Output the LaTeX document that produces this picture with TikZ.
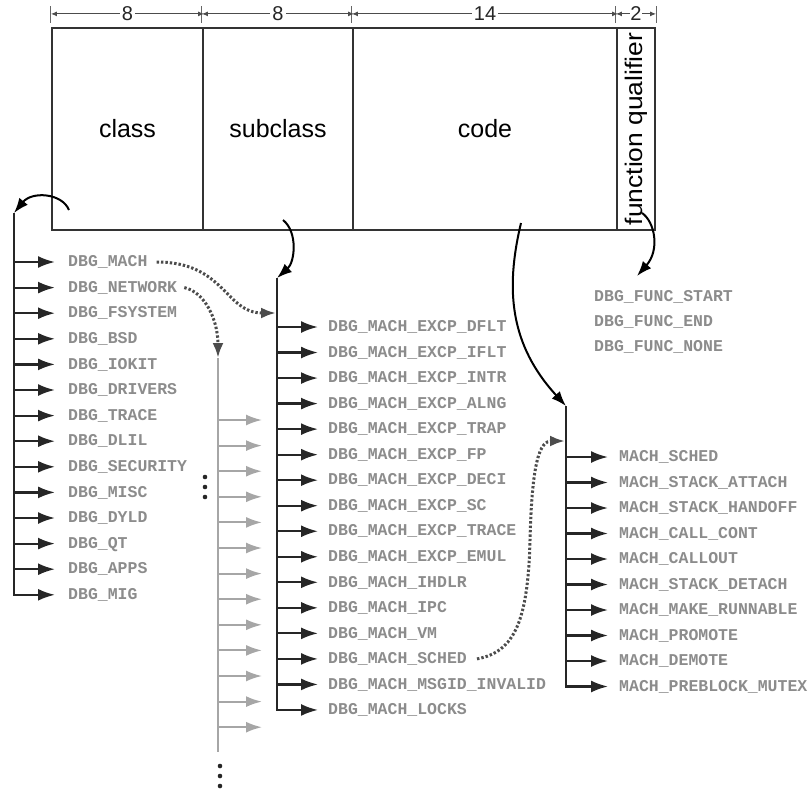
\documentclass[tikz,border=0pt]{standalone}
\usepackage{fontspec}
\setmainfont{Liberation Sans}
\newfontfamily\itemfont{Liberation Mono}
\usetikzlibrary{arrows.meta}
\tikzset{
  harrtip/.tip={Latex[length=17pt,width=12pt]},
  garrtip/.tip={Latex[length=16pt,width=11pt]},
  curvtip/.tip={Latex[length=15pt,width=11pt]},
  dimtip/.tip={Latex[length=6pt,width=5pt]}
}
\begin{document}
\begin{tikzpicture}[x=1pt,y=-1pt,
  field/.style={draw=black!80,line width=2.2pt,minimum height=202pt,inner sep=0pt,font=\fontsize{25}{28}\selectfont},
  item/.style={anchor=west,inner sep=0pt,text height=9.4pt,text depth=0pt,font=\itemfont\bfseries\fontsize{16.5}{18}\selectfont,text=black!45},
  harr/.style={line width=2.2pt,draw=black!85,line join=miter,arrows={-harrtip}},
  gcol/.style={line width=2.2pt,draw=black!35},
  garr/.style={line width=2pt,draw=black!35,arrows={-garrtip}},
  dots/.style={line width=3pt,draw=black!70,dash pattern=on 2.4pt off 2pt,arrows={-curvtip}},
  curv/.style={line width=2pt,draw=black,arrows={-curvtip}},
  dim/.style={line width=1pt,draw=black!70,arrows={dimtip-dimtip}},
  dimtick/.style={line width=1pt,draw=black!60},
  dimlab/.style={fill=white,inner sep=2pt,font=\fontsize{20}{22}\selectfont,text=black!85},
  dotmark/.style={fill=black!85}
]
\useasboundingbox (0,0) rectangle (810,792);

% ---- the word layout box
\node[field,minimum width=151pt] (cls) at (127.5,129) {class};
\node[field,minimum width=150pt] (sub) at (278,129) {subclass};
\node[field,minimum width=264pt] (cod) at (485,129) {code};
\node[field,minimum width=38pt] (fq) at (636,129) {};
\node[rotate=90,inner sep=0pt,font=\fontsize{24}{26}\selectfont,xscale=1.1] (fqtext) at (fq.center) {function qualifier};

% ---- dimension line
\foreach \p in {cls.north west,sub.north west,cod.north west,fq.north west,fq.north east}
  \draw[dimtick] ([yshift=4pt]\p) -- ([yshift=21pt]\p);
\draw[dim] ([yshift=13pt]cls.north west) -- node[dimlab] (d1) {8} ([yshift=13pt]cls.north east);
\draw[dim] ([yshift=13pt]sub.north west) -- node[dimlab] (d2) {8} ([yshift=13pt]sub.north east);
\draw[dim] ([yshift=13pt]cod.north west) -- node[dimlab] (d3) {14} ([yshift=13pt]cod.north east);
\draw[dim] ([yshift=13pt]fq.north west) -- node[dimlab,inner xsep=0.5pt] (d4) {2} ([yshift=13pt]fq.north east);

% ---- class list
\coordinate (lc) at (14,213);
\foreach \t [count=\i from 0] in {DBG\_MACH,DBG\_NETWORK,DBG\_FSYSTEM,DBG\_BSD,DBG\_IOKIT,DBG\_DRIVERS,DBG\_TRACE,DBG\_DLIL,DBG\_SECURITY,DBG\_MISC,DBG\_DYLD,DBG\_QT,DBG\_APPS,DBG\_MIG}
  \node[item] (L\i) at (68,{262+25.6*\i}) {\t};
\foreach \i in {0,...,12}
  \draw[harr,shorten >=13pt] (lc |- L\i.west) -- (L\i.west);
\draw[harr,shorten >=13pt] (lc) |- (L13.west);
\draw[curv] (69,210) .. controls (62,193) and (32,191) .. (lc);

% ---- subclass list
\coordinate (mc) at (277,278);
\foreach \t [count=\i from 0] in {DBG\_MACH\_EXCP\_DFLT,DBG\_MACH\_EXCP\_IFLT,DBG\_MACH\_EXCP\_INTR,DBG\_MACH\_EXCP\_ALNG,DBG\_MACH\_EXCP\_TRAP,DBG\_MACH\_EXCP\_FP,DBG\_MACH\_EXCP\_DECI,DBG\_MACH\_EXCP\_SC,DBG\_MACH\_EXCP\_TRACE,DBG\_MACH\_EXCP\_EMUL,DBG\_MACH\_IHDLR,DBG\_MACH\_IPC,DBG\_MACH\_VM,DBG\_MACH\_SCHED,DBG\_MACH\_MSGID\_INVALID,DBG\_MACH\_LOCKS}
  \node[item] (M\i) at (328,{327+25.53*\i}) {\t};
\foreach \i in {0,...,14}
  \draw[harr,shorten >=10pt] (mc |- M\i.west) -- (M\i.west);
\draw[harr,shorten >=10pt] (mc) |- (M15.west);
\draw[curv] (283,220) .. controls (298,232) and (295,262) .. (mc);

% ---- gray (other subclasses) list
\coordinate (gtop) at (218,358);
\coordinate (gbot) at (218,752);
\draw[gcol] (gtop) -- (gbot);
\foreach \i in {0,...,12}
  \draw[garr] (gtop |- 0,{420+25.6*\i}) coordinate (g\i) -- ++(44,0) coordinate (gt\i);
\foreach \y in {477,487,497} \fill[dotmark] (205,\y) circle (2.3pt);
\foreach \y in {766,776,786} \fill[dotmark] (220,\y) circle (2.3pt);

% ---- code list
\coordinate (rc) at (566,406);
\foreach \t [count=\i from 0] in {MACH\_SCHED,MACH\_STACK\_ATTACH,MACH\_STACK\_HANDOFF,MACH\_CALL\_CONT,MACH\_CALLOUT,MACH\_STACK\_DETACH,MACH\_MAKE\_RUNNABLE,MACH\_PROMOTE,MACH\_DEMOTE,MACH\_PREBLOCK\_MUTEX}
  \node[item] (R\i) at (619,{457+25.5*\i}) {\t};
\foreach \i in {0,...,8}
  \draw[harr,shorten >=11pt] (rc |- R\i.west) -- (R\i.west);
\draw[harr,shorten >=11pt] (rc) |- (R9.west);
\draw[curv] (521,223) .. controls (505,290) and (510,345) .. (rc);

% ---- function qualifier values
\foreach \t [count=\i from 0] in {DBG\_FUNC\_START,DBG\_FUNC\_END,DBG\_FUNC\_NONE}
  \node[item] (F\i) at (594,{297+25*\i}) {\t};
\coordinate (fqt) at (637,276);
\draw[curv] (642,213) .. controls (655,222) and (660,250) .. (fqt);

% ---- dotted cross references
\coordinate (mt) at (276,313);
\coordinate (rt) at (565,441);
\draw[dots] ([xshift=9pt]L0.east) .. controls (225,262) and (225,313) .. (mt);
\draw[dots] ([xshift=7pt]L1.east) .. controls (205,292) and (218,320) .. (gtop);
\draw[dots] ([xshift=10pt]M13.east) .. controls (515,652) and (528,620) .. (530,540)
  .. controls (532,460) and (540,441) .. (rt);
\end{tikzpicture}
\end{document}
